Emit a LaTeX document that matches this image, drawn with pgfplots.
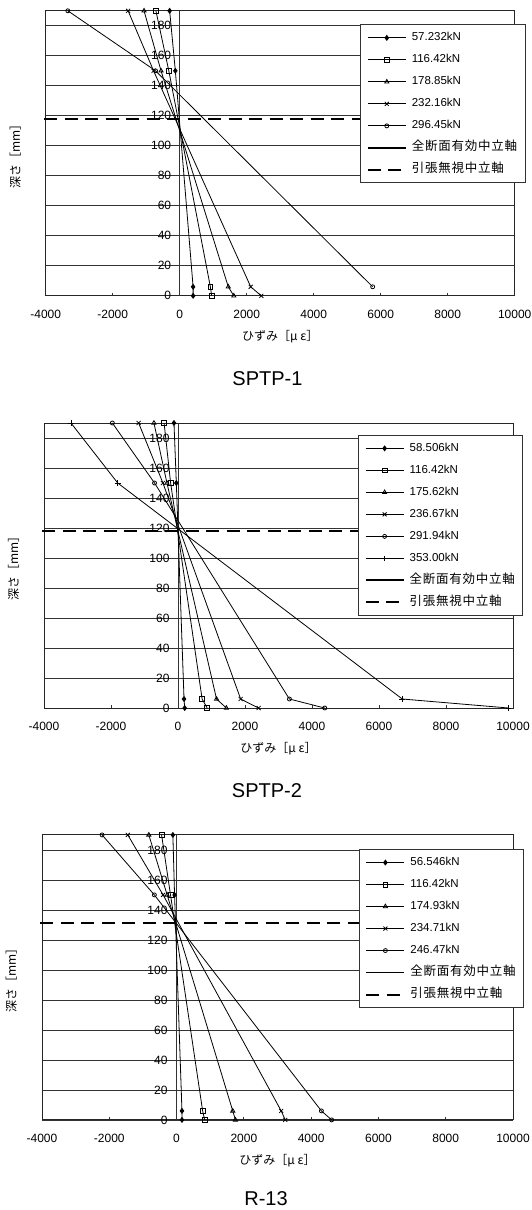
\documentclass[border=0pt]{standalone}
\usepackage{pgfplots}
\pgfplotsset{compat=1.18}
\usepackage{fontspec}
\setmainfont{Liberation Sans}
\newfontfamily\cjk{Noto Sans CJK JP}
\newfontfamily\cjkw{Noto Sans CJK JP}[LetterSpace=6]

\pgfplotsset{
  strain/.style={
    scale only axis, width=469pt, height=285pt,
    xmin=-4000, xmax=10000, ymin=0, ymax=190,
    xtick={-4000,-2000,...,10000}, ytick={0,20,...,180},
    ymajorgrids, grid style={black!80, line width=0.8pt},
    axis line style={black!85, line width=0.9pt},
    xtick pos=bottom, ytick pos=left, tick align=inside, major tick length=3pt,
    xtick style={black!80, line width=0.8pt},
    ytick style={draw=none},
    scaled x ticks=false,
    /pgf/number format/assume math mode=true,
    /pgf/number format/set thousands separator={},
    tick label style={font=\fontsize{12}{14}\selectfont},
    yticklabel style={xshift=129pt},
    xticklabel style={yshift=-11pt},
    clip=false,
    xlabel={\cjk ひずみ［μ ε］}, ylabel={\cjk 深さ［mm］},
    every axis y label/.style={at={(axis description cs:-0.065,0.5)}, rotate=90, anchor=center, font=\fontsize{12}{14}\selectfont},
    every axis x label/.style={at={(axis description cs:0.5,-0.143)}, anchor=center, font=\fontsize{12}{14}\selectfont},
    legend style={anchor=north west, draw=black!80, line width=0.8pt, fill=white,
      font=\fontsize{11.5}{13}\selectfont, row sep=6pt, column sep=3pt,
      inner xsep=6pt, inner ysep=5pt,
      nodes={inner sep=2pt, text height=9pt, text depth=3pt}},
    legend cell align=left,
    legend image code/.code={\draw[mark repeat=2,mark phase=2,#1] plot coordinates {(0pt,0pt) (19pt,0pt) (38pt,0pt)};},
    every axis plot/.append style={black, line width=0.8pt, mark size=2.4pt, mark options={solid, fill=white}},
  },
  zeroline/.style={forget plot, black!80, line width=0.9pt, no markers},
  dashaxis/.style={forget plot, black, line width=2pt, dash pattern=on 13pt off 7.5pt, no markers},
  fulllegend/.style={legend image code/.code={\draw[black, line width=1.8pt] (0pt,0pt) -- (38pt,0pt);}},
  dashlegend/.style={legend image code/.code={\draw[black, line width=2pt, dash pattern=on 13pt off 7.5pt] (0pt,0pt) -- (38pt,0pt);}},
}
\newcommand\jp[1]{{\fontsize{12.5}{13}\selectfont\cjkw #1}}

\begin{document}
\begin{tikzpicture}
\useasboundingbox (0pt,0pt) rectangle (531pt,-1210pt);

% ---------------- SPTP-1 ----------------
\begin{axis}[strain, at={(45.7pt,-10.8pt)}, anchor=north west, legend style={at={(0.671,0.952)}}]
\addplot[zeroline] coordinates {(0,0) (0,190)};
\addplot[dashaxis] coordinates {(-4050,118) (10000,118)};
\addplot[mark=diamond*, mark options={fill=black}] coordinates {(-300,190) (-130,150) (400,6) (400,0)};
\addlegendentry{57.232kN}
\addplot[mark=square] coordinates {(-710,190) (-325,150) (915,6) (955,0)};
\addlegendentry{116.42kN}
\addplot[mark=triangle] coordinates {(-1065,190) (-557,150) (1450,6) (1615,0)};
\addlegendentry{178.85kN}
\addplot[mark=x, mark size=2.8pt] coordinates {(-1540,190) (-780,150) (2120,6) (2435,0)};
\addlegendentry{232.16kN}
\addplot[mark=o, mark size=2pt] coordinates {(-3340,190) (-720,150) (5760,6)};
\addlegendentry{296.45kN}
\addlegendimage{fulllegend}
\addlegendentry{\jp{全断面有効中立軸}}
\addlegendimage{dashlegend}
\addlegendentry{\jp{引張無視中立軸}}
\end{axis}

% ---------------- SPTP-2 ----------------
\begin{axis}[strain, at={(44pt,-423pt)}, anchor=north west, legend style={at={(0.670,0.958)}}]
\addplot[zeroline] coordinates {(0,0) (0,190)};
\addplot[dashaxis] coordinates {(-4050,118) (10000,118)};
\addplot[mark=diamond*, mark options={fill=black}] coordinates {(-120,190) (-50,150) (180,6) (200,0)};
\addlegendentry{58.506kN}
\addplot[mark=square] coordinates {(-415,190) (-220,150) (720,6) (870,0)};
\addlegendentry{116.42kN}
\addplot[mark=triangle] coordinates {(-718,190) (-330,150) (1150,6) (1445,0)};
\addlegendentry{175.62kN}
\addplot[mark=x, mark size=2.8pt] coordinates {(-1175,190) (-450,150) (1870,6) (2405,0)};
\addlegendentry{236.67kN}
\addplot[mark=o, mark size=2pt] coordinates {(-1960,190) (-700,150) (3325,6) (4380,0)};
\addlegendentry{291.94kN}
\addplot[mark=+, mark size=2.8pt] coordinates {(-3195,190) (-1800,150) (6695,6) (9870,0)};
\addlegendentry{353.00kN}
\addlegendimage{fulllegend}
\addlegendentry{\jp{全断面有効中立軸}}
\addlegendimage{dashlegend}
\addlegendentry{\jp{引張無視中立軸}}
\end{axis}

% ---------------- R-13 ----------------
\begin{axis}[strain, width=471pt, at={(42pt,-834.9pt)}, anchor=north west, legend style={at={(0.673,0.95)}}]
\addplot[zeroline] coordinates {(0,0) (0,190)};
\addplot[dashaxis] coordinates {(-4050,131) (10000,131)};
\addplot[mark=diamond*, mark options={fill=black}] coordinates {(-110,190) (-60,150) (160,6) (160,0)};
\addlegendentry{56.546kN}
\addplot[mark=square] coordinates {(-445,190) (-180,150) (775,6) (835,0)};
\addlegendentry{116.42kN}
\addplot[mark=triangle] coordinates {(-825,190) (-280,150) (1670,6) (1750,0)};
\addlegendentry{174.93kN}
\addplot[mark=x, mark size=2.8pt] coordinates {(-1450,190) (-400,150) (3110,6) (3230,0)};
\addlegendentry{234.71kN}
\addplot[mark=o, mark size=2pt] coordinates {(-2215,190) (-660,150) (4305,6) (4610,0)};
\addlegendentry{246.47kN}
\addlegendimage{fulllegend}
\addlegendentry{\jp{全断面有効中立軸}}
\addlegendimage{dashlegend}
\addlegendentry{\jp{引張無視中立軸}}
\end{axis}

\node[font=\fontsize{20}{22}\selectfont] at (267.5pt,-378.2pt) {SPTP-1};
\node[font=\fontsize{20}{22}\selectfont] at (267pt,-791pt) {SPTP-2};
\node[font=\fontsize{20}{22}\selectfont] at (266pt,-1199pt) {R-13};
\end{tikzpicture}
\end{document}
